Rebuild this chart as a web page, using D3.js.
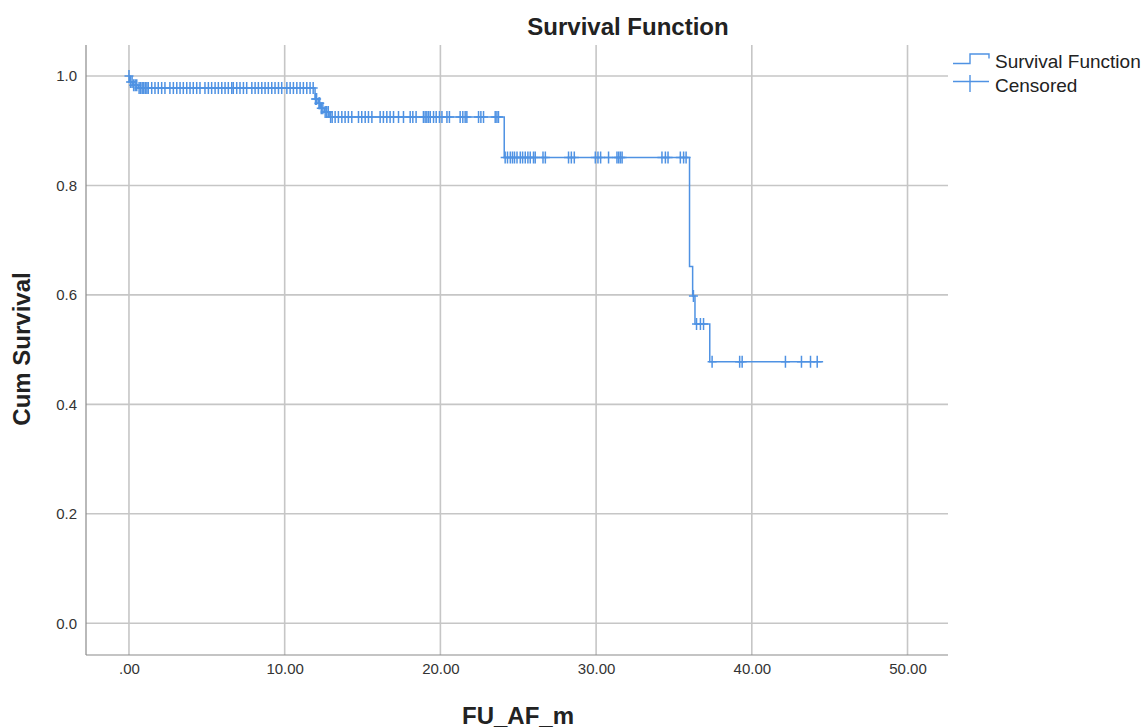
<!DOCTYPE html>
<html>
<head>
<meta charset="utf-8">
<script src="https://cdn.jsdelivr.net/npm/d3@7"></script>
<style>
  html, body { margin: 0; padding: 0; background: #fff; }
  svg { display: block; font-family: "Liberation Sans", Arial, sans-serif; }
</style>
</head>
<body>
<svg id="chart" width="1144" height="728"></svg>
<script>
// ---- data ----
const stepTimes    = [0, 0.05, 0.25, 0.6, 11.95, 12.15, 12.3, 12.55, 12.9, 24.1, 36.0, 36.2, 36.35, 37.3];
const stepSurvival = [1.0, 0.989, 0.983, 0.978, 0.958, 0.950, 0.941, 0.934, 0.925, 0.851, 0.652, 0.598, 0.547, 0.478];
const lastTime = 44.58;

const censoredTimes = [
  0, 0.1, 0.2, 0.3, 0.4, 0.5, 0.65, 0.75, 0.85, 0.95, 1.05, 1.15,
  1.24, 1.46, 1.67, 1.88, 2.1, 2.31, 2.63, 2.85, 3.07, 3.28, 3.49, 3.71, 3.92, 4.13, 4.35, 4.56,
  4.88, 5.1, 5.31, 5.53, 5.74, 5.96, 6.17, 6.38, 6.6, 6.7, 6.92, 7.13, 7.35, 7.56, 7.89, 8.1,
  8.31, 8.53, 8.74, 8.95, 9.17, 9.38, 9.6, 9.81, 10.14, 10.35, 10.56, 10.78, 10.99, 11.2, 11.42,
  11.63, 11.83,
  11.98, 12.05, 12.2, 12.25, 12.35, 12.45, 12.6, 12.7, 12.8, 12.95, 13.05,
  13.24, 13.45, 13.67, 13.88, 14.09, 14.31, 14.74, 14.95, 15.17, 15.38, 15.6, 16.13, 16.34,
  16.56, 16.77, 16.99, 17.31, 17.63, 18.06, 18.23, 18.44, 18.91, 19.02, 19.13, 19.24, 19.35,
  19.56, 19.73, 19.94, 20.1, 20.42, 20.58, 21.27, 21.44, 21.59, 21.7, 22.45, 22.6, 22.77,
  23.52, 23.63, 23.73,
  24.16, 24.31, 24.49, 24.63, 24.76, 24.92, 25.13, 25.28, 25.45, 25.62, 25.77, 25.98, 26.09,
  26.59, 26.74, 28.23, 28.41, 28.6, 29.95, 30.12, 30.29, 30.8, 31.34, 31.45, 31.56, 31.67,
  34.23, 34.45, 34.62, 35.41, 35.62, 35.78,
  36.25, 36.45, 36.7, 36.9,
  37.45, 39.22, 39.38, 42.16, 43.19, 43.77, 44.2
];

const xTickValues = [0, 10, 20, 30, 40, 50];
const xTickLabels = [".00", "10.00", "20.00", "30.00", "40.00", "50.00"];
const yTickValues = [0.0, 0.2, 0.4, 0.6, 0.8, 1.0];
const yTickLabels = ["0.0", "0.2", "0.4", "0.6", "0.8", "1.0"];

const titleText = "Survival Function";
const xTitle = "FU_AF_m";
const yTitle = "Cum Survival";
const legendLabels = ["Survival Function", "Censored"];

// ---- layout ----
const svg = d3.select("#chart");
const pLeft = 86, pRight = 948, pTop = 45, pBottom = 655;
const blue = "#4f92e3";
const gridColor = "#c6c6c6";
const axisColor = "#8a8a8a";
const textColor = "#222";

const x = d3.scaleLinear().domain([-2.76, 52.6]).range([pLeft, pRight]);
const y = d3.scaleLinear().domain([-0.058, 1.0566]).range([pBottom, pTop]);

// gridlines
svg.append("g").selectAll("line").data(yTickValues).join("line")
  .attr("x1", pLeft).attr("x2", pRight)
  .attr("y1", d => y(d)).attr("y2", d => y(d))
  .attr("stroke", gridColor).attr("stroke-width", 1.6);
svg.append("g").selectAll("line").data(xTickValues).join("line")
  .attr("x1", d => x(d)).attr("x2", d => x(d))
  .attr("y1", pTop).attr("y2", pBottom)
  .attr("stroke", gridColor).attr("stroke-width", 1.6);

// axis lines
svg.append("line").attr("x1", pLeft).attr("x2", pLeft).attr("y1", pTop).attr("y2", pBottom)
  .attr("stroke", axisColor).attr("stroke-width", 1.2);
svg.append("line").attr("x1", pLeft).attr("x2", pRight).attr("y1", pBottom).attr("y2", pBottom)
  .attr("stroke", axisColor).attr("stroke-width", 1.2);

// tick labels via d3 axes
const xAxis = d3.axisBottom(x).tickValues(xTickValues).tickSize(0).tickPadding(0)
  .tickFormat((d, i) => xTickLabels[i]);
const gx = svg.append("g").attr("transform", `translate(0,${pBottom + 8})`).call(xAxis);
gx.select(".domain").remove();
gx.selectAll("text").attr("font-size", 15).attr("fill", "#333")
  .attr("font-family", "Liberation Sans, Arial, sans-serif").attr("dy", "0.7em");

const yAxis = d3.axisLeft(y).tickValues(yTickValues).tickSize(0).tickPadding(0)
  .tickFormat((d, i) => yTickLabels[i]);
const gy = svg.append("g").attr("transform", `translate(${pLeft - 9},0)`).call(yAxis);
gy.select(".domain").remove();
gy.selectAll("text").attr("font-size", 15).attr("fill", "#333")
  .attr("font-family", "Liberation Sans, Arial, sans-serif");

// survival step line
const pts = stepTimes.map((t, i) => [t, stepSurvival[i]]);
pts.push([lastTime, stepSurvival[stepSurvival.length - 1]]);
const line = d3.line().x(d => x(d[0])).y(d => y(d[1])).curve(d3.curveStepAfter);
svg.append("path").attr("d", line(pts)).attr("fill", "none")
  .attr("stroke", blue).attr("stroke-width", 1.5);

// censored marks
const survAt = t => stepSurvival[d3.bisectRight(stepTimes, t) - 1];
const cg = svg.append("g").attr("stroke", blue).attr("stroke-width", 1.5).attr("fill", "none");
censoredTimes.forEach(t => {
  const cx = x(t), cy = y(survAt(t));
  cg.append("path").attr("d", `M${cx - 4.5},${cy}H${cx + 4.5}M${cx},${cy - 6}V${cy + 6}`);
});

// titles
svg.append("text").attr("x", 628).attr("y", 35).attr("text-anchor", "middle")
  .attr("font-size", 24).attr("font-weight", "bold").attr("fill", textColor).text(titleText);
svg.append("text").attr("x", 518).attr("y", 724).attr("text-anchor", "middle")
  .attr("font-size", 24).attr("font-weight", "bold").attr("fill", textColor).text(xTitle);
svg.append("text").attr("transform", "translate(30,349) rotate(-90)").attr("text-anchor", "middle")
  .attr("font-size", 24).attr("font-weight", "bold").attr("fill", textColor).text(yTitle);

// legend
const lg = svg.append("g");
lg.append("path").attr("d", "M953,63.5H970V54H989V58.5").attr("fill", "none")
  .attr("stroke", blue).attr("stroke-width", 1.4);
lg.append("path").attr("d", "M953,81.5H989M970,75V92").attr("fill", "none")
  .attr("stroke", blue).attr("stroke-width", 1.4);
lg.selectAll("text").data(legendLabels).join("text")
  .attr("x", 995).attr("y", (d, i) => 68 + i * 24)
  .attr("font-size", 19).attr("fill", textColor).text(d => d);
</script>
</body>
</html>
